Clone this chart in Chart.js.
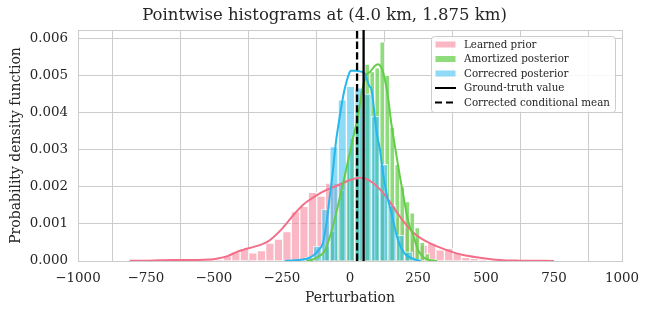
<!DOCTYPE html>
<html>
<head>
<meta charset="utf-8">
<script src="https://cdn.jsdelivr.net/npm/chart.js@4.4.1/dist/chart.umd.min.js"></script>
<style>
  html, body { margin: 0; padding: 0; background: #ffffff; }
  #wrap { width: 649px; height: 314px; }
</style>
</head>
<body>
<div id="wrap"><canvas id="c" width="649" height="314"></canvas></div>
<script>
// ---------- data ----------
const titleText = 'Pointwise histograms at (4.0 km, 1.875 km)';
const xLabel = 'Perturbation';
const yLabel = 'Probability density function';
const seriesLabels = ['Learned prior', 'Amortized posterior', 'Correcred posterior', 'Ground-truth value', 'Corrected conditional mean'];

// Learned prior histogram (bin centers, density)
const priorBins = [-638.8, -607.5, -576.2, -544.9, -513.6, -482.3, -451.0, -419.7, -388.4, -357.1, -325.8, -294.5, -263.2, -231.9, -200.6, -169.3, -138.0, -106.7, -75.4, -44.1, -12.8, 18.5, 49.8, 81.1, 112.4, 143.7, 175.0, 206.3, 237.6, 268.9, 300.2, 331.5, 362.8, 394.1, 425.4, 456.7, 488.0];
const priorHist = [0.00003, 0, 0, 0.00001, 0.00001, 0.00003, 0.000135, 0.00025, 0.00034, 0.00022, 0.00028, 0.00048, 0.00059, 0.00079, 0.00133, 0.00147, 0.00185, 0.00175, 0.0021, 0.0021, 0.00222, 0.0022, 0.00218, 0.002, 0.00178, 0.0015, 0.00118, 0.0009, 0.00062, 0.00043, 0.00048, 0.0003, 0.00034, 0.00021, 0.0001, 0.00007, 0.00004];

// Amortized posterior histogram
const amortBins = [-139, -120.6, -102.2, -83.8, -65.4, -47, -28.6, -10.2, 8.2, 26.6, 45, 63.4, 81.8, 100.2, 118.6, 137, 155.4, 173.8, 192.2, 210.6, 229, 247.4, 265.8, 284.2, 302.6];
const amortHist = [0.00002, 0.00005, 0.00018, 0.0004, 0.0008, 0.0013, 0.0019, 0.0027, 0.0033, 0.0041, 0.0046, 0.0053, 0.0051, 0.0052, 0.0059, 0.0050, 0.0036, 0.0026, 0.0020, 0.0016, 0.0013, 0.0009, 0.0005, 0.0002, 0.00005];

// Corrected posterior histogram
const corrBins = [-181, -150.5, -120, -89.5, -59, -28.5, 2, 32.5, 63, 93.5, 124, 154.5, 185, 215.5, 246];
const corrHist = [0.00003, 0.0001, 0.0004, 0.0014, 0.00308, 0.00434, 0.0047, 0.00466, 0.0045, 0.0039, 0.0026, 0.0015, 0.0007, 0.00025, 0.00005];

// KDE curves
const priorKdeX = [-810, -736, -650, -560, -515, -491, -450, -418, -393, -369, -320, -295, -246, -210, -197, -170, -148, -99, -50, 0, 36, 85, 134, 183, 232, 293, 354, 416, 477, 550, 624, 750];
const priorKdeY = [0.000005, 0.00001, 0.00003, 0.00003, 0.00004, 0.00006, 0.00013, 0.00024, 0.0003, 0.00035, 0.00046, 0.00056, 0.0009, 0.00122, 0.00133, 0.00153, 0.00165, 0.00187, 0.00202, 0.00218, 0.00224, 0.0021, 0.00172, 0.0012, 0.00077, 0.00048, 0.0003, 0.00016, 0.00009, 0.00003, 0.00001, 0.000002];

const amortKdeX = [-160, -140, -120, -93, -68, -44, -19, 11, 29, 48, 60, 75, 91, 103, 121, 140, 152, 165, 183, 200, 213, 232, 250, 270, 290, 320];
const amortKdeY = [0, 0.00003, 0.0001, 0.00027, 0.0008, 0.0015, 0.0023, 0.0033, 0.0039, 0.0047, 0.005, 0.0051, 0.00525, 0.0053, 0.0051, 0.0044, 0.0037, 0.0031, 0.0023, 0.0016, 0.0011, 0.0007, 0.0003, 0.0001, 0.00003, 0];

const corrKdeX = [-240, -200, -160, -136, -115, -99, -85, -75, -68, -50, -44, -26, -19, 0, 5, 20, 40, 54, 72, 79, 97, 110, 121, 135, 152, 177, 201, 232, 260];
const corrKdeY = [0, 0.00002, 0.00006, 0.00014, 0.0003, 0.0005, 0.0011, 0.0017, 0.0021, 0.0033, 0.0036, 0.0044, 0.00465, 0.0051, 0.00512, 0.00512, 0.0051, 0.00505, 0.0047, 0.00462, 0.0035, 0.003, 0.0024, 0.0018, 0.0013, 0.00055, 0.0002, 0.00006, 0];

const groundTruth = 50;
const correctedMean = 26;

const xMin = -1000, xMax = 1000, xStep = 250;
const yMin = 0, yMax = 0.00622, yStep = 0.001;

// ---------- styling ----------
const FONT = "'DejaVu Serif', serif";
const TXT = '#262626';
const GRID = '#cccccc';
const pinkLine = 'rgb(242,110,137)';
const greenLine = 'rgb(98,206,72)';
const blueLine = 'rgb(38,183,236)';
const pinkFill = 'rgba(245,112,138,0.5)';
const greenFill = 'rgba(98,206,72,0.72)';
const blueFill = 'rgba(40,184,236,0.52)';

const pts = (xs, ys) => xs.map((x, i) => ({ x: x, y: ys[i] }));

const barCommon = {
  type: 'bar', xAxisID: 'x', grouped: false,
  barPercentage: 1, categoryPercentage: 1,
  borderWidth: 1, borderColor: 'rgba(255,255,255,0.8)', borderSkipped: 'start'
};
const lineCommon = { type: 'line', pointRadius: 0, fill: false, cubicInterpolationMode: 'monotone', borderWidth: 2, xAxisID: 'x' };

const titlePlugin = {
  id: 'centerTitle',
  afterDraw(chart) {
    const ctx = chart.ctx;
    ctx.save();
    ctx.font = '16.5px ' + FONT;
    ctx.fillStyle = TXT;
    ctx.textAlign = 'center';
    ctx.textBaseline = 'middle';
    ctx.fillText(titleText, chart.width / 2, 16);
    ctx.restore();
  }
};

const legendPlugin = {
  id: 'boxLegend',
  afterDatasetsDraw(chart) {
    const ctx = chart.ctx;
    const x0 = 431, y0 = 36, w = 184, h = 76;
    ctx.save();
    ctx.fillStyle = 'rgba(255,255,255,0.85)';
    ctx.strokeStyle = '#cccccc';
    ctx.lineWidth = 1;
    ctx.beginPath();
    if (ctx.roundRect) ctx.roundRect(x0 + 0.5, y0 + 0.5, w, h, 3); else ctx.rect(x0 + 0.5, y0 + 0.5, w, h);
    ctx.fill(); ctx.stroke();
    const rows = [44.5, 59, 73.5, 88, 102.5];
    const fills = [pinkFill, greenFill, blueFill];
    ctx.font = '10.3px ' + FONT;
    ctx.textBaseline = 'middle';
    for (let i = 0; i < 5; i++) {
      const cy = rows[i];
      if (i < 3) {
        ctx.fillStyle = fills[i];
        ctx.fillRect(435.5, cy - 3, 20, 6);
      } else {
        ctx.strokeStyle = '#000';
        ctx.lineWidth = 2;
        ctx.setLineDash(i === 4 ? [7, 4] : []);
        ctx.beginPath(); ctx.moveTo(435, cy); ctx.lineTo(456, cy); ctx.stroke();
        ctx.setLineDash([]);
      }
      ctx.fillStyle = TXT;
      ctx.fillText(seriesLabels[i], 464, cy + 0.5);
    }
    ctx.restore();
  }
};

const framePlugin = {
  id: 'frame',
  beforeDatasetsDraw(chart) {
    const a = chart.chartArea, ctx = chart.ctx;
    ctx.save();
    ctx.strokeStyle = GRID; ctx.lineWidth = 1;
    ctx.strokeRect(Math.round(a.left) + 0.5, Math.round(a.top) + 0.5, Math.round(a.right - a.left), Math.round(a.bottom - a.top));
    ctx.restore();
  }
};

const chart = new Chart(document.getElementById('c'), {
  data: {
    datasets: [
      { ...lineCommon, label: seriesLabels[3], data: [{ x: groundTruth, y: yMin }, { x: groundTruth, y: yMax }], borderColor: '#000', borderWidth: 2.3, cubicInterpolationMode: 'default', order: 0 },
      { ...lineCommon, label: seriesLabels[4], data: [{ x: correctedMean, y: yMin }, { x: correctedMean, y: yMax }], borderColor: '#000', borderWidth: 2.3, borderDash: [7.4, 3.2], cubicInterpolationMode: 'default', order: 0 },
      { ...lineCommon, label: seriesLabels[2] + ' KDE', data: pts(corrKdeX, corrKdeY), borderColor: blueLine, order: 1 },
      { ...lineCommon, label: seriesLabels[1] + ' KDE', data: pts(amortKdeX, amortKdeY), borderColor: greenLine, order: 2 },
      { ...lineCommon, label: seriesLabels[0] + ' KDE', data: pts(priorKdeX, priorKdeY), borderColor: pinkLine, order: 3 },
      { ...barCommon, label: seriesLabels[2], data: pts(corrBins, corrHist), backgroundColor: blueFill, order: 4, binW: corrBins[1] - corrBins[0] },
      { ...barCommon, label: seriesLabels[1], data: pts(amortBins, amortHist), backgroundColor: greenFill, order: 5, binW: amortBins[1] - amortBins[0] },
      { ...barCommon, label: seriesLabels[0], data: pts(priorBins, priorHist), backgroundColor: pinkFill, order: 6, binW: priorBins[1] - priorBins[0] }
    ]
  },
  options: {
    responsive: false,
    animation: false,
    layout: { padding: { left: 0, right: 27, top: 30, bottom: 0 } },
    plugins: {
      legend: { display: false },
      tooltip: { enabled: false },
      title: { display: false }
    },
    scales: {
      x: {
        type: 'linear', min: xMin, max: xMax, offset: false,
        ticks: { stepSize: xStep, color: TXT, font: { family: FONT, size: 13.4 }, padding: 9, maxRotation: 0, autoSkip: false,
                 callback: v => String(v).replace('-', '\u2212') },
        grid: { color: GRID, drawTicks: false, lineWidth: 1 },
        border: { display: false },
        title: { display: true, text: xLabel, color: TXT, font: { family: FONT, size: 14 }, padding: { top: 0, bottom: 7 } },
        afterFit: s => { s.height = 53; }
      },
      y: {
        type: 'linear', min: yMin, max: yMax,
        ticks: { stepSize: yStep, includeBounds: false, color: TXT, font: { family: FONT, size: 13.4 }, padding: 10,
                 callback: v => Number(v).toFixed(3) },
        grid: { color: GRID, drawTicks: false, lineWidth: 1 },
        border: { display: false },
        title: { display: true, text: yLabel, color: TXT, font: { family: FONT, size: 14 }, padding: { top: 7.5, bottom: 0 } },
        afterFit: s => { s.width = 78; }
      }
    }
  },
  plugins: [framePlugin, legendPlugin, titlePlugin]
});

// bar width = one bin, converted to pixels through the x scale
const sx = chart.scales.x;
chart.data.datasets.forEach(ds => {
  if (ds.type === 'bar') {
    ds.barThickness = Math.abs(sx.getPixelForValue(ds.binW) - sx.getPixelForValue(0));
  }
});
chart.update();
</script>
</body>
</html>
